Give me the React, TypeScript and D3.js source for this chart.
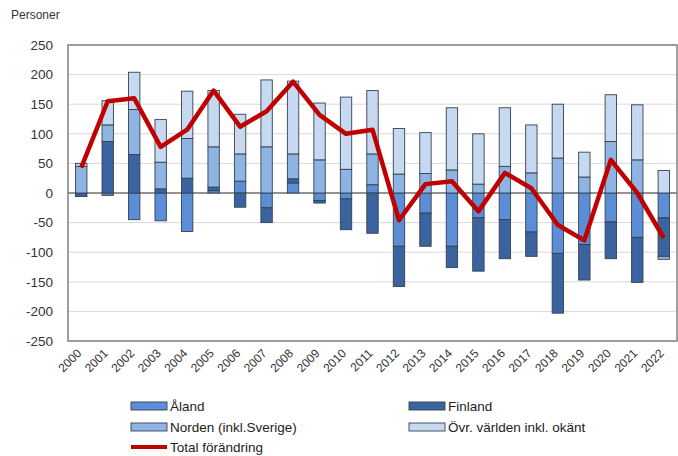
import React, { useRef, useEffect } from "react";
import * as d3 from "d3";

const years = [
  "2000", "2001", "2002", "2003", "2004", "2005", "2006", "2007", "2008", "2009", "2010", "2011",
  "2012", "2013", "2014", "2015", "2016", "2017", "2018", "2019", "2020", "2021", "2022",
];
const aland = [0, -4, -45, -47, -65, 4, 20, -25, 17, -13, -10, 14, -90, -34, -90, -42, -45, -66, -102, -87, -49, -75, -42];
const finland = [-6, 87, 65, 7, 25, 6, -24, -25, 7, -4, -52, -68, -68, -56, -36, -90, -66, -41, -101, -60, -62, -76, -65];
const norden = [45, 28, 76, 45, 67, 68, 46, 78, 42, 56, 40, 52, 32, 33, 39, 15, 45, 34, 59, 27, 87, 56, -5];
const ovrigt = [5, 41, 63, 72, 80, 95, 67, 113, 123, 96, 122, 107, 77, 69, 105, 85, 99, 81, 91, 42, 79, 93, 38];
const total = [43, 155, 160, 78, 107, 173, 112, 138, 188, 132, 100, 107, -46, 15, 20, -31, 34, 8, -54, -80, 56, 0, -76];
const yTicks = [250, 200, 150, 100, 50, 0, -50, -100, -150, -200, -250];

const seriesKeys = ["aland", "finland", "norden", "ovrigt"];
const seriesNames: Record<string, string> = {
  aland: "Åland",
  finland: "Finland",
  norden: "Norden (inkl.Sverige)",
  ovrigt: "Övr. världen inkl. okänt",
};
const seriesColors: Record<string, string> = {
  aland: "#5B8ED6",
  finland: "#3A64A0",
  norden: "#8EB4E3",
  ovrigt: "#C6D9F1",
};

const FONT = "'Liberation Sans', Arial, sans-serif";

const Chart: React.FC = () => {
  const ref = useRef<SVGSVGElement | null>(null);

  useEffect(() => {
    const svg = d3.select(ref.current);
    svg.selectAll("*").remove();

    const width = 678;
    const height = 456;
    const left = 68;
    const right = 677;
    const top = 45;
    const bottom = 341;

    svg.attr("width", width).attr("height", height);

    const rows = years.map((y, i) => ({
      year: y,
      aland: aland[i],
      finland: finland[i],
      norden: norden[i],
      ovrigt: ovrigt[i],
    }));

    const x = d3.scaleBand().domain(years).range([left, right]).paddingInner(0.57).paddingOuter(0.285);
    const y = d3.scaleLinear().domain([-250, 250]).range([bottom, top]);

    // gridlines
    svg
      .append("g")
      .selectAll("line")
      .data(yTicks)
      .enter()
      .append("line")
      .attr("x1", left)
      .attr("x2", right)
      .attr("y1", (d) => y(d))
      .attr("y2", (d) => y(d))
      .attr("stroke", (d) => (d === 0 ? "#6f6f6f" : "#d9d9d9"))
      .attr("stroke-width", (d) => (d === 0 ? 1.5 : 1));

    // frame
    svg
      .append("rect")
      .attr("x", left)
      .attr("y", top)
      .attr("width", right - left)
      .attr("height", bottom - top)
      .attr("fill", "none")
      .attr("stroke", "#808080")
      .attr("stroke-width", 1.5);

    // y labels
    svg
      .append("g")
      .selectAll("text")
      .data(yTicks)
      .enter()
      .append("text")
      .attr("x", 53)
      .attr("y", (d) => y(d))
      .attr("dy", "0.35em")
      .attr("text-anchor", "end")
      .attr("font-family", FONT)
      .attr("font-size", 13.5)
      .attr("fill", "#333")
      .text((d) => d);

    svg
      .append("text")
      .attr("x", 11)
      .attr("y", 19)
      .attr("font-family", FONT)
      .attr("font-size", 12)
      .attr("fill", "#333")
      .text("Personer");

    // stacked bars
    const stack = d3.stack<any>().keys(seriesKeys).offset(d3.stackOffsetDiverging);
    const layers = stack(rows);

    svg
      .append("g")
      .selectAll("g")
      .data(layers)
      .enter()
      .append("g")
      .attr("fill", (d) => seriesColors[d.key])
      .selectAll("rect")
      .data((d) => d.filter((p) => p[1] - p[0] !== 0))
      .enter()
      .append("rect")
      .attr("x", (d) => x(d.data.year) || 0)
      .attr("y", (d) => y(Math.max(d[0], d[1])))
      .attr("width", x.bandwidth())
      .attr("height", (d) => Math.abs(y(d[0]) - y(d[1])))
      .attr("stroke", "#36404e")
      .attr("stroke-width", 0.9);

    // total line
    const line = d3
      .line<number>()
      .x((_, i) => (x(years[i]) || 0) + x.bandwidth() / 2)
      .y((d) => y(d));

    svg
      .append("path")
      .datum(total)
      .attr("d", line)
      .attr("fill", "none")
      .attr("stroke", "#C00000")
      .attr("stroke-width", 4.5)
      .attr("stroke-linejoin", "round");

    // x labels
    svg
      .append("g")
      .selectAll("text")
      .data(years)
      .enter()
      .append("text")
      .attr("transform", (d) => `translate(${(x(d) || 0) + x.bandwidth() / 2 + 1}, 354) rotate(-45)`)
      .attr("text-anchor", "end")
      .attr("font-family", FONT)
      .attr("font-size", 12)
      .attr("fill", "#333")
      .text((d) => d);

    // legend
    const legendItems = [
      { key: "aland", col: 0, row: 0 },
      { key: "finland", col: 1, row: 0 },
      { key: "norden", col: 0, row: 1 },
      { key: "ovrigt", col: 1, row: 1 },
    ];
    const colX = [131, 409];
    const rowY = [406, 427, 447];

    const lg = svg.append("g");
    legendItems.forEach((it) => {
      const lx = colX[it.col];
      const ly = rowY[it.row];
      lg.append("rect")
        .attr("x", lx)
        .attr("y", ly - 4)
        .attr("width", 36)
        .attr("height", 8)
        .attr("fill", seriesColors[it.key])
        .attr("stroke", "#36404e")
        .attr("stroke-width", 0.9);
      lg.append("text")
        .attr("x", lx + 39)
        .attr("y", ly)
        .attr("dy", "0.35em")
        .attr("font-family", FONT)
        .attr("font-size", 13.5)
        .attr("fill", "#222")
        .text(seriesNames[it.key]);
    });
    lg.append("line")
      .attr("x1", colX[0])
      .attr("x2", colX[0] + 36)
      .attr("y1", rowY[2])
      .attr("y2", rowY[2])
      .attr("stroke", "#C00000")
      .attr("stroke-width", 4);
    lg.append("text")
      .attr("x", colX[0] + 39)
      .attr("y", rowY[2])
      .attr("dy", "0.35em")
      .attr("font-family", FONT)
      .attr("font-size", 13.5)
      .attr("fill", "#222")
      .text("Total förändring");
  }, []);

  return <svg ref={ref} style={{ position: "absolute", left: 0, top: 0 }}></svg>;
};

export default function App() {
  return <Chart />;
}
